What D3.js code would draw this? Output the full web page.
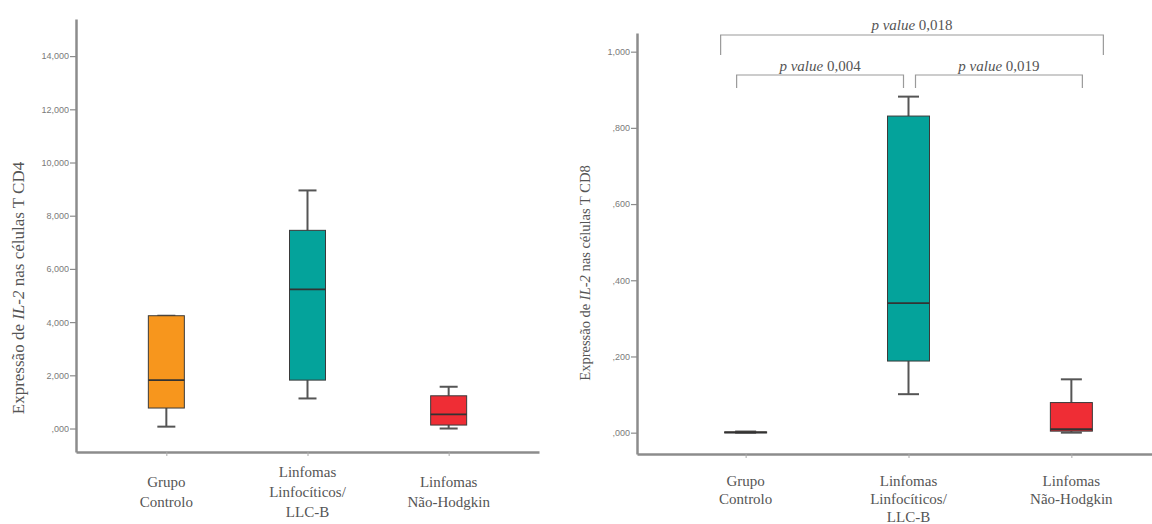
<!DOCTYPE html>
<html>
<head>
<meta charset="utf-8">
<script src="https://cdn.jsdelivr.net/npm/d3@7"></script>
<style>
  body { margin: 0; background: #fff; }
  svg { display: block; overflow: hidden; }
  .tick-label { font-family: "Liberation Sans", Arial, sans-serif; font-size: 9px; fill: #7a7a7a; }
  .cat-label { font-size: 15px; fill: #555; }
  .y-title { fill: #555; }
  .p-label { font-size: 15px; fill: #555; }
</style>
</head>
<body>
<div class="charts-container"></div>
<script>
"use strict";

const serifFont = "'Liberation Serif', 'Times New Roman', 'DejaVu Serif', serif";

// Groups shown on both charts (each entry = lines of the label)
const categories = ["Grupo Controlo", "Linfomas Linfocíticos/ LLC-B", "Linfomas Não-Hodgkin"];
const categoryLines = [["Grupo", "Controlo"], ["Linfomas", "Linfocíticos/", "LLC-B"], ["Linfomas", "Não-Hodgkin"]];

// Box statistics: [min, q1, median, q3, max]
const cd4Stats = [
  [0.07, 0.77, 1.82, 4.24, 4.24],
  [1.13, 1.82, 5.23, 7.45, 8.95],
  [0.00, 0.13, 0.53, 1.23, 1.57]
];
const cd8Stats = [
  [0.000, 0.000, 0.001, 0.002, 0.003],
  [0.101, 0.188, 0.340, 0.831, 0.882],
  [0.000, 0.004, 0.009, 0.079, 0.140]
];

const cd4Ticks = [0, 2, 4, 6, 8, 10, 12, 14];
const cd8Ticks = [0, 0.2, 0.4, 0.6, 0.8, 1.0];

// Pairwise comparisons on the CD8 chart
const comparisons = [
  { from: 0, to: 2, label: "0,018", level: 0 },
  { from: 0, to: 1, label: "0,004", level: 1 },
  { from: 1, to: 2, label: "0,019", level: 1 }
];

const boxColors = ["#f7961d", "#04a39b", "#ef2d35"];

const locale = d3.formatLocale({ decimal: ",", thousands: ".", grouping: [3], currency: ["", ""] });
const fmt = v => locale.format(".3f")(v).replace(/^0,/, ",");

const svg = d3.select(".charts-container")
  .append("svg")
    .attr("width", 1152)
    .attr("height", 524);

function drawPanel(opts) {
  const g = svg.append("g");

  const x = d3.scalePoint()
    .domain(categories)
    .range([opts.left, opts.right])
    .padding(opts.padding);

  const y = d3.scaleLinear()
    .domain(opts.yDomain)
    .range([opts.bottom, opts.top]);

  // Y axis
  const yAxis = d3.axisLeft(y)
    .tickValues(opts.ticks)
    .tickFormat(fmt)
    .tickSize(6)
    .tickSizeOuter(0);

  const ya = g.append("g")
    .attr("transform", `translate(${opts.left}, 0)`)
    .call(yAxis);
  ya.attr("font-family", null).attr("font-size", null);
  ya.select(".domain").attr("stroke", "#8c8c8c").attr("stroke-width", 2.5);
  ya.selectAll(".tick line").attr("stroke", "#8c8c8c").attr("stroke-width", 1.2);
  ya.selectAll(".tick text").attr("class", "tick-label").attr("x", -7);

  // X axis
  const xAxis = d3.axisBottom(x)
    .tickSize(4)
    .tickSizeOuter(0)
    .tickFormat("");

  const xa = g.append("g")
    .attr("transform", `translate(0, ${opts.bottom})`)
    .call(xAxis);
  xa.select(".domain").attr("stroke", "#8c8c8c").attr("stroke-width", 2.5);
  xa.selectAll(".tick line").attr("stroke", "#aaa").attr("stroke-width", 1);

  // Category labels
  const labels = g.selectAll("text.cat-label")
    .data(categoryLines)
    .join("text")
      .attr("class", "cat-label")
      .attr("font-family", serifFont)
      .attr("text-anchor", "middle")
      .attr("x", (d, i) => x(categories[i]))
      .attr("y", d => opts.centerLabels
        ? opts.labelY - (d.length - 1) * opts.lineGap / 2
        : opts.labelY);
  labels.selectAll("tspan")
    .data(d => d)
    .join("tspan")
      .attr("x", function() { return this.parentNode.getAttribute("x"); })
      .attr("dy", (d, i) => i === 0 ? 0 : opts.lineGap)
      .text(d => d);

  // Y title
  const title = g.append("text")
    .attr("class", "y-title")
    .attr("font-family", serifFont)
    .attr("text-anchor", "middle")
    .attr("dominant-baseline", "middle")
    .attr("font-size", opts.titleSize)
    .attr("transform", `translate(${opts.titleX}, ${opts.titleY}) rotate(-90)`);
  title.append("tspan").text("Expressão de ");
  title.append("tspan").attr("font-style", "italic").text("IL-2");
  title.append("tspan").text(" nas células T " + opts.cell);

  // Boxes
  const bw = opts.boxWidth;
  const boxes = g.selectAll("g.box")
    .data(opts.stats)
    .join("g")
      .attr("class", "box")
      .attr("transform", (d, i) => `translate(${x(categories[i])}, 0)`);

  boxes.append("line")
    .attr("x1", 0).attr("x2", 0)
    .attr("y1", d => y(d[0])).attr("y2", d => y(d[1]))
    .attr("stroke", "#555").attr("stroke-width", 2);
  boxes.append("line")
    .attr("x1", 0).attr("x2", 0)
    .attr("y1", d => y(d[3])).attr("y2", d => y(d[4]))
    .attr("stroke", "#555").attr("stroke-width", 2);
  boxes.selectAll("line.cap")
    .data(d => [d[0], d[4]])
    .join("line")
      .attr("class", "cap")
      .attr("x1", -bw / 4).attr("x2", bw / 4)
      .attr("y1", d => y(d)).attr("y2", d => y(d))
      .attr("stroke", "#555").attr("stroke-width", 2);
  boxes.append("rect")
    .attr("x", -bw / 2)
    .attr("width", bw)
    .attr("y", d => y(d[3]))
    .attr("height", d => Math.max(1, y(d[1]) - y(d[3])))
    .attr("fill", (d, i) => boxColors[i])
    .attr("stroke", "#3a3a3a")
    .attr("stroke-width", 1);
  boxes.append("line")
    .attr("x1", -bw / 2).attr("x2", bw / 2)
    .attr("y1", d => y(d[2])).attr("y2", d => y(d[2]))
    .attr("stroke", "#333").attr("stroke-width", 1.8);

  return { x, y, g };
}

// Left panel: CD4
drawPanel({
  left: 76, right: 539, top: 19, bottom: 452,
  padding: 0.64,
  yDomain: [-0.883, 15.395],
  ticks: cd4Ticks,
  stats: cd4Stats,
  boxWidth: 36,
  labelY: 497,
  lineGap: 20,
  centerLabels: true,
  cell: "CD4",
  titleX: 20, titleY: 288, titleSize: 17
});

// Right panel: CD8
const right = drawPanel({
  left: 637, right: 1180, top: 33, bottom: 454,
  padding: 0.667,
  yDomain: [-0.056, 1.049],
  ticks: cd8Ticks,
  stats: cd8Stats,
  boxWidth: 42,
  labelY: 486,
  lineGap: 18,
  centerLabels: false,
  cell: "CD8",
  titleX: 587, titleY: 273, titleSize: 14.5
});

// Significance brackets
const bracketLevels = [{ lineY: 35, dropY: 55, textY: 30 }, { lineY: 75, dropY: 88, textY: 71 }];
const bracketInset = { "0-2": [-25, 32], "0-1": [-9, -5], "1-2": [7, 11] };

const br = right.g.selectAll("g.bracket")
  .data(comparisons)
  .join("g")
    .attr("class", "bracket");

br.append("path")
  .attr("d", d => {
    const lv = bracketLevels[d.level];
    const off = bracketInset[d.from + "-" + d.to];
    const x1 = right.x(categories[d.from]) + off[0];
    const x2 = right.x(categories[d.to]) + off[1];
    return `M${x1},${lv.dropY}V${lv.lineY}H${x2}V${lv.dropY}`;
  })
  .attr("fill", "none")
  .attr("stroke", "#9a9a9a")
  .attr("stroke-width", 1.2);

const pt = br.append("text")
  .attr("class", "p-label")
  .attr("font-family", serifFont)
  .attr("text-anchor", "middle")
  .attr("x", d => {
    const off = bracketInset[d.from + "-" + d.to];
    return (right.x(categories[d.from]) + off[0] + right.x(categories[d.to]) + off[1]) / 2;
  })
  .attr("y", d => bracketLevels[d.level].textY);
pt.append("tspan").attr("font-style", "italic").text("p value");
pt.append("tspan").text(d => " " + d.label);
</script>
</body>
</html>
